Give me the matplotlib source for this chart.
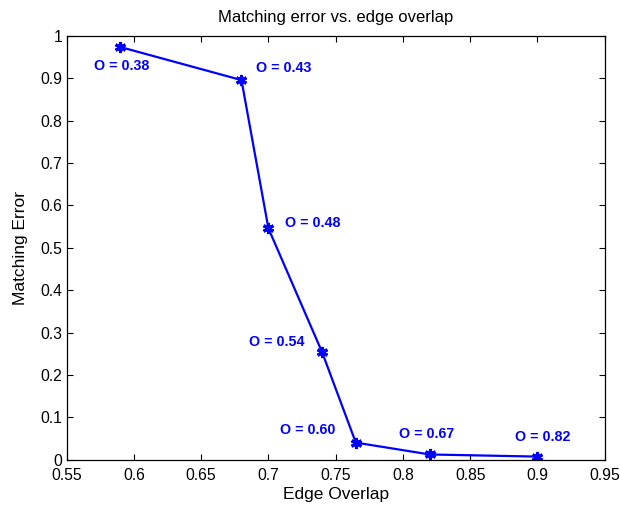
import numpy as np
import matplotlib.pyplot as plt

plt.rcParams['font.family'] = ['Liberation Sans', 'DejaVu Sans']

# edge overlap vs. matching error, one label per point
edge_overlap = [0.59, 0.68, 0.70, 0.74, 0.765, 0.82, 0.90]
match_error = [0.974, 0.896, 0.546, 0.253, 0.040, 0.012, 0.007]
o_labels = ['O = 0.38', 'O = 0.43', 'O = 0.48', 'O = 0.54',
            'O = 0.60', 'O = 0.67', 'O = 0.82']

# label offsets in pixels and horizontal alignment
offsets = [(1, -19), (15, 12), (17, 5), (-18, 10), (-20, 13), (-3, 20), (5, 20)]
aligns = ['center', 'left', 'left', 'right', 'right', 'center', 'center']

fig = plt.figure(figsize=(6.2, 5.05), dpi=100)
ax = fig.add_axes([0.1075, 0.090, 0.8677, 0.8386])

blue = '#0000ff'
ax.plot(edge_overlap, match_error, color=blue, lw=1.6,
        marker=(6, 2, 0), ms=8, mew=2.2, mec=blue)

for x, y, s, off, ha in zip(edge_overlap, match_error, o_labels, offsets, aligns):
    ax.annotate(s, (x, y), xytext=off, textcoords='offset pixels',
                ha=ha, va='center', color=blue, fontsize=10.3, fontweight='bold')

ax.set_xlim(0.55, 0.95)
ax.set_ylim(0, 1)
ax.set_xticks(np.arange(0.55, 0.951, 0.05))
ax.set_yticks(np.arange(0, 1.01, 0.1))
ax.set_xticklabels(['0.55', '0.6', '0.65', '0.7', '0.75', '0.8', '0.85', '0.9', '0.95'])
ax.set_yticklabels(['0', '0.1', '0.2', '0.3', '0.4', '0.5', '0.6', '0.7', '0.8', '0.9', '1'])
ax.tick_params(direction='in', top=True, right=True, length=4, width=0.8,
               labelsize=11.3)
ax.tick_params(axis='x', pad=6)
ax.tick_params(axis='y', pad=3)
for sp in ax.spines.values():
    sp.set_linewidth(0.9)

ax.set_xlabel('Edge Overlap', fontsize=12.5, labelpad=3)
ax.set_ylabel('Matching Error', fontsize=12.5, labelpad=9)
ax.set_title('Matching error vs. edge overlap', fontsize=12, pad=10)

fig.savefig('out.png', dpi=100)
